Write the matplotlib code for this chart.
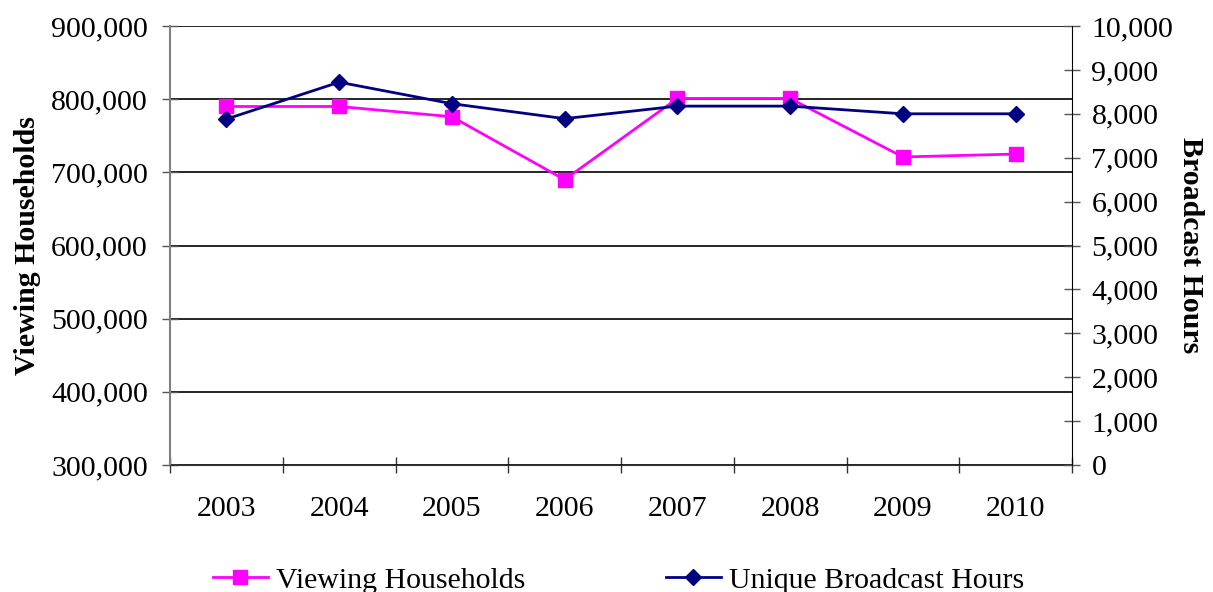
import numpy as np
import matplotlib
matplotlib.use("Agg")
import matplotlib.pyplot as plt
from matplotlib.ticker import FuncFormatter, FixedLocator

years = ["2003", "2004", "2005", "2006", "2007", "2008", "2009", "2010"]
viewing_households = [790000, 790000, 776000, 690000, 801000, 801000, 721000, 725000]
broadcast_hours = [7880, 8720, 8230, 7890, 8175, 8175, 8000, 8000]

plt.rcParams['font.family'] = ['Liberation Serif', 'DejaVu Serif']
FS = 21.5

fig = plt.figure(figsize=(12.13, 5.92), dpi=100)
ax = fig.add_axes([170 / 1213, 1 - 465 / 592, (1072 - 170) / 1213, (465 - 26) / 592])
ax2 = ax.twinx()

x = np.arange(len(years))

ax.set_ylim(300000, 900000)
ax.set_yticks(np.arange(300000, 900001, 100000))
ax.yaxis.grid(True, color="black", linewidth=1.2)
ax.set_axisbelow(True)
ax.set_xlim(-0.5, len(years) - 0.5)

ax2.set_ylim(0, 10000)
ax2.set_yticks(np.arange(0, 10001, 1000))

comma = FuncFormatter(lambda v, p: f"{int(v):,}")
ax.yaxis.set_major_formatter(comma)
ax2.yaxis.set_major_formatter(comma)

# year labels centered, ticks on category boundaries
ax.set_xticks(x)
ax.set_xticklabels(years)
ax.xaxis.set_minor_locator(FixedLocator(np.arange(-0.5, len(years), 1.0)))
ax.tick_params(axis="x", which="major", length=0, pad=22, labelsize=FS)
ax.tick_params(axis="x", which="minor", direction="inout", length=12, width=1, color="#333333")
ax.tick_params(axis="y", direction="inout", length=12, width=1, color="#555555", labelsize=FS, pad=10)
ax2.tick_params(axis="y", direction="inout", length=12, width=1, color="#555555", labelsize=FS, pad=8)

ax.spines["top"].set_visible(False)
ax2.spines["top"].set_visible(False)
ax.spines["right"].set_visible(False)
ax2.spines["left"].set_visible(False)
ax2.spines["bottom"].set_visible(False)
ax.spines["left"].set_color("#808080")
ax.spines["left"].set_linewidth(1.5)
ax.spines["bottom"].set_color("#333333")
ax2.spines["right"].set_color("black")

l1, = ax.plot(x, viewing_households, color="#FF00FF", marker="s", markersize=10.5,
              linewidth=2, label="Viewing Households", zorder=3)
l2, = ax2.plot(x, broadcast_hours, color="#000080", marker="D", markersize=8.5,
               linewidth=2, label="Unique Broadcast Hours", zorder=3)

ax.set_ylabel("Viewing Households", fontsize=FS, fontweight="bold", labelpad=7)
ax2.set_ylabel("Broadcast Hours", fontsize=FS, fontweight="bold", rotation=270, labelpad=22)

fig.legend(handles=[l1, l2], loc="center", bbox_to_anchor=(0.51, 0.02), ncol=2,
           frameon=False, fontsize=FS, columnspacing=4.7, handlelength=1.85,
           handletextpad=0.27)

fig.savefig("out.png", dpi=100)
